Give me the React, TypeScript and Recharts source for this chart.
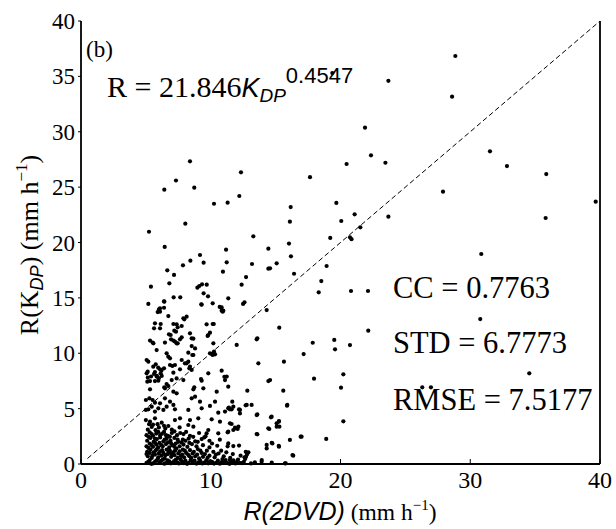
import React from 'react';
import { ScatterChart, Scatter, XAxis, YAxis, ReferenceLine } from 'recharts';

// ---- data (R(2DVD), R(KDP)) in mm/h ----
const upperPoints: [number, number][] = [
  [5.24, 20.97], [6.42, 24.77], [7.32, 25.6], [8.4, 27.33], [8.73, 24.95], [8.04, 21.7], [10.25, 23.5],
  [11.3, 23.6], [12.2, 24.2], [12.33, 26.34], [17.65, 25.9], [13.28, 20.56], [16.16, 23.2], [16.1, 21.88],
  [16.03, 19.9], [14.44, 19.44], [11.18, 19.35], [6.45, 19.6], [9.17, 18.87], [16.18, 18.75],
  [28.85, 36.84], [28.6, 33.17], [23.69, 34.6], [19.37, 35.3], [21.89, 30.37], [22.35, 27.87], [23.46, 27.2],
  [20.47, 27.09], [31.52, 28.23], [32.83, 26.9], [35.86, 26.18], [27.9, 24.59], [19.68, 23.57], [21.09, 22.54],
  [20.06, 21.94], [23.69, 22.33], [35.81, 22.21], [39.67, 23.69], [21.53, 21.37], [19.21, 20.41], [20.73, 20.47],
  [20.85, 20.3], [30.85, 18.96], [15.08, 18.12], [14.57, 17.67], [16.42, 17.18], [18.93, 17.88], [9.45, 18.18],
  [8.43, 18.36], [7.86, 17.94], [6.65, 17.49], [7.17, 17.07], [11.23, 18.21], [10.94, 17.37], [13.18, 18.06],
  [14.44, 17.64], [12.72, 16.88],
];

const midPoints: [number, number][] = [
  [18.52, 16.52], [18.32, 15.5], [20.81, 15.62], [22.12, 15.62], [30.77, 13.09], [22.14, 12.04], [20.73, 10.74],
  [19.52, 11.2], [19.58, 10.35], [17.86, 10.95], [17.16, 9.93], [5.39, 16.01], [6.81, 16.31], [8.97, 15.92],
  [9.12, 16.07], [9.33, 16.22], [9.69, 16.19], [9.45, 15.41], [9.79, 15.14], [12.38, 16.19], [11.35, 14.96],
  [10.15, 14.51], [10.69, 14.18], [12.49, 14.45], [12.6, 14.6], [7.14, 15.05], [7.65, 15.05], [6.4, 14.69],
  [5.19, 14.45], [6.09, 14.06], [6.4, 14.11], [9.27, 14.42], [15.28, 12.31], [14.31, 13.9], [13.54, 11.26],
  [10.84, 13.84], [6.09, 13.75], [6.73, 13.36], [7.89, 13.15], [8.14, 13.3], [10.92, 13.75], [5.7, 12.7],
  [6.14, 12.64], [7.12, 12.64], [7.76, 12.46], [9.68, 12.61], [10.15, 12.64], [9.94, 11.86], [9.81, 11.65],
  [5.63, 12.25], [6.09, 12.25], [7.32, 11.95], [6.91, 11.65], [8.4, 11.8], [7.63, 11.26], [8.53, 11.35],
  [13.59, 11.35], [5.32, 11.14], [5.52, 10.96], [6.47, 10.96], [7.12, 11.14], [7.37, 10.9], [8.53, 10.65],
  [8.79, 10.44], [12.0, 10.75], [5.83, 10.29], [8.27, 10.05], [9.94, 9.99], [10.25, 10.14], [10.15, 9.84],
  [6.42, 14.66], [6.01, 13.96], [5.91, 13.72], [9.3, 14.39], [10.84, 14.14], [10.97, 13.84], [7.96, 13.06],
  [10.23, 12.64], [7.37, 12.61], [7.45, 12.34], [7.19, 12.04], [6.78, 11.71], [7.76, 11.44], [8.66, 11.32],
  [9.76, 11.56], [5.58, 10.9], [6.94, 11.26], [7.24, 11.05], [7.45, 10.9], [10.2, 10.9], [10.33, 9.9],
];

const lowerMidPoints: [number, number][] = [
  [6.73, 9.69], [8.66, 9.84], [5.06, 9.39], [5.19, 9.24], [7.76, 9.39], [8.01, 9.09], [13.67, 9.09], [15.64, 9.24],
  [5.57, 8.79], [6.09, 8.55], [6.4, 8.64], [7.24, 8.94], [7.63, 8.55], [8.35, 8.64], [10.84, 8.43], [9.3, 7.52],
  [9.81, 8.19], [5.06, 8.19], [5.63, 8.13], [5.83, 7.89], [6.14, 8.19], [7.12, 8.25], [7.89, 7.58], [11.1, 7.58],
  [11.23, 7.89], [14.44, 7.49], [5.11, 7.43], [5.32, 7.49], [5.7, 7.49], [5.96, 7.52], [6.6, 7.22], [6.99, 7.58],
  [7.37, 7.73], [8.66, 6.74], [9.43, 6.83], [10.46, 6.53], [12.82, 6.62], [15.59, 6.62], [5.32, 6.74], [6.47, 6.83],
  [7.12, 6.53], [7.37, 6.38], [8.53, 5.93], [8.79, 6.08], [9.17, 5.63], [10.33, 5.63], [11.35, 5.03], [11.74, 5.18],
  [11.61, 4.94], [12.25, 4.88], [12.77, 5.33], [13.15, 5.33], [13.59, 4.48], [15.9, 5.33], [5.0, 5.78], [5.27, 5.93],
  [5.52, 5.78], [5.7, 5.54], [6.09, 5.48], [6.47, 5.93], [6.6, 5.18], [6.86, 5.63], [7.12, 5.33], [7.24, 4.94],
  [8.27, 4.88], [9.3, 5.03], [9.94, 5.24], [10.58, 4.63], [11.1, 4.73], [11.48, 4.94], [5.0, 4.88], [5.19, 4.94],
  [5.45, 5.18], [5.7, 4.73], [5.96, 5.03], [6.35, 4.88], [7.63, 4.12], [8.4, 3.97], [9.04, 4.12], [10.07, 4.03],
  [10.71, 3.82], [11.48, 3.67], [11.87, 3.22], [12.13, 3.37], [14.69, 4.27], [15.08, 3.67], [15.29, 3.37],
  [5.0, 3.97], [5.32, 3.82], [5.7, 4.12], [6.22, 3.73], [6.73, 3.43], [7.24, 3.97], [8.27, 3.52], [8.66, 3.37],
  [9.81, 3.07], [13.54, 2.71], [14.44, 3.22], [5.76, 9.0], [5.95, 8.7], [6.2, 8.45], [5.7, 8.3], [5.85, 7.95],
  [5.4, 7.9], [5.15, 7.8], [6.0, 7.75], [6.22, 7.95], [6.86, 8.94], [7.04, 8.85], [8.4, 8.79], [8.53, 8.49],
  [9.25, 7.67], [11.05, 7.88], [8.73, 6.92], [6.42, 6.92], [6.73, 7.04], [6.6, 9.99], [6.86, 9.54], [8.14, 9.09],
  [8.27, 9.24], [8.58, 9.84], [5.14, 8.34], [10.2, 10.0], [10.1, 9.9], [17.96, 7.7], [20.22, 8.1], [20.04, 6.89],
  [34.55, 8.19], [26.3, 6.92], [26.97, 6.92], [20.22, 3.85], [14.57, 7.58], [15.88, 5.27], [15.24, 3.82],
  [15.08, 3.37], [11.35, 6.98], [11.66, 5.63], [11.4, 5.1], [12.18, 4.93], [12.25, 4.57], [12.69, 5.3],
  [13.54, 4.42], [14.64, 4.21], [15.26, 3.88], [14.51, 3.16], [11.61, 3.61], [11.87, 3.28], [12.07, 3.16],
  [11.74, 3.07], [5.15, 3.1], [5.45, 3.35], [5.75, 3.05], [6.0, 3.3], [6.5, 3.2], [7.0, 3.1], [7.6, 3.3],
  [5.25, 3.6], [5.55, 3.55], [5.9, 3.6], [6.4, 3.45],
];

const lowPoints: [number, number][] = [
  [18.9, 2.26], [17.0, 2.47], [14.7, 1.92], [15.24, 1.63], [16.1, 2.17], [16.93, 2.47], [16.3, 0.81], [14.7, 0.12],
  [15.78, 0.06], [14.31, 1.72], [13.93, 0.36], [12.72, 0.66], [12.8, 0.9], [12.65, 0.45], [12.9, 1.05], [11.3, 2.86],
  [13.59, 2.68], [11.35, 1.86], [11.74, 1.62], [12.18, 1.66], [14.31, 1.41], [14.75, 1.86], [15.26, 1.56],
  [16.36, 0.75], [11.48, 0.36], [11.74, 0.21], [12.12, 0.12], [11.1, 0.21], [13.92, 0.21], [15.72, 0.06],
  [9.68, 2.77], [10.58, 2.77], [11.35, 2.92],
];

const basePoints: [number, number][] = [
  [5.05, 0.1], [5.3, 0.35], [5.55, 0.05], [5.8, 0.3], [6.05, 0.15], [6.3, 0.4], [6.55, 0.08], [6.8, 0.25],
  [7.05, 0.12], [7.3, 0.38], [7.55, 0.05], [7.8, 0.22], [8.05, 0.3], [8.3, 0.1], [8.6, 0.18], [8.9, 0.04],
  [9.2, 0.28], [9.5, 0.12], [9.8, 0.06], [10.1, 0.2], [10.4, 0.1], [10.7, 0.03], [11.0, 0.15], [11.3, 0.08],
  [11.6, 0.2], [11.9, 0.05], [12.2, 0.1],
  [5.2, 0.22], [5.42, 0.02], [5.68, 0.18], [5.92, 0.45], [6.18, 0.28], [6.42, 0.03], [6.68, 0.33], [6.92, 0.06],
  [7.18, 0.26], [7.42, 0.15], [7.68, 0.4], [7.92, 0.08], [8.18, 0.02], [8.45, 0.35], [8.75, 0.3], [9.05, 0.14],
  [9.35, 0.05], [9.65, 0.32], [9.95, 0.25], [10.25, 0.04], [10.55, 0.3], [10.85, 0.18], [11.15, 0.35],
  [11.45, 0.02], [11.75, 0.32], [12.05, 0.25], [12.4, 0.08], [12.55, 0.2], [13.1, 0.05], [13.4, 0.15],
  [5.15, 0.7], [5.45, 0.55], [5.7, 0.85], [5.95, 0.6], [6.2, 0.75], [6.45, 0.5], [6.7, 0.9], [6.95, 0.65],
  [7.2, 0.8], [7.45, 0.55], [7.7, 0.72], [7.95, 0.6], [8.25, 0.85], [8.5, 0.55], [8.8, 0.7], [9.1, 0.5],
  [9.4, 0.65], [9.75, 0.55], [10.3, 0.6], [10.9, 0.45], [11.5, 0.55], [12.1, 0.4], [12.6, 0.6], [12.8, 0.9],
  [12.7, 1.1],
  [5.05, 0.9], [5.3, 1.0], [5.5, 0.75], [5.75, 1.2], [6.0, 0.95], [6.25, 1.25], [6.5, 0.8], [6.75, 1.05],
  [7.0, 0.9], [7.25, 1.2], [7.5, 0.95], [7.8, 0.85], [8.0, 1.2], [8.35, 0.7], [8.6, 0.95], [8.95, 0.85],
  [9.2, 1.2], [9.55, 0.9], [9.9, 0.75], [10.4, 0.85], [10.8, 1.2], [11.0, 0.7], [11.7, 0.9], [12.3, 0.75],
  [5.1, 1.1], [5.35, 1.3], [5.6, 1.05], [5.85, 1.35], [6.1, 1.15], [6.35, 1.0], [6.6, 1.3], [6.85, 1.2],
  [7.1, 1.05], [7.35, 1.4], [7.6, 1.15], [7.85, 1.3], [8.1, 1.0], [8.4, 1.25], [8.7, 1.1], [9.0, 1.35],
  [9.3, 1.0], [9.7, 1.2], [10.2, 1.1], [10.6, 0.95], [11.2, 1.05],
  [5.05, 1.6], [5.3, 1.85], [5.55, 1.55], [5.8, 1.75], [6.05, 1.9], [6.3, 1.6], [6.55, 1.8], [6.8, 1.5],
  [7.05, 1.7], [7.3, 1.85], [7.6, 1.6], [7.9, 1.75], [8.2, 1.55], [8.55, 1.8], [8.9, 1.6], [9.4, 1.7],
  [9.9, 1.5], [10.5, 1.65], [11.3, 1.6],
  [5.2, 1.45], [5.45, 1.7], [5.7, 1.95], [5.95, 1.5], [6.2, 1.7], [6.45, 2.2], [6.7, 1.95], [6.95, 1.85],
  [7.2, 1.55], [7.45, 2.2], [7.75, 1.95], [8.05, 2.1], [8.35, 1.9], [8.65, 2.45], [9.0, 2.0], [9.5, 2.4],
  [10.1, 1.85],
  [5.1, 2.1], [5.35, 2.35], [5.6, 2.0], [5.85, 2.25], [6.1, 2.4], [6.35, 2.05], [6.6, 2.3], [6.9, 2.1],
  [7.2, 2.35], [7.5, 2.0], [7.85, 2.2], [8.3, 2.3], [8.8, 2.05], [9.3, 2.25], [9.9, 2.1], [10.7, 2.2],
  [5.05, 2.6], [5.3, 2.85], [5.55, 2.55], [5.8, 2.75], [6.1, 2.6], [6.4, 2.9], [6.7, 2.55], [7.0, 2.8],
  [7.4, 2.6], [7.9, 2.7], [8.4, 2.55], [9.1, 2.8], [9.6, 2.5],
  [5.2, 2.45], [5.45, 2.7], [5.7, 2.3], [5.95, 2.9], [6.25, 2.75], [6.55, 2.6], [6.85, 2.45], [7.2, 2.95],
  [7.65, 2.8], [8.1, 2.9],
];

const oneToOne = [{ x: 0.5, y: 0.5 }, { x: 40, y: 40 }];
const xTicks = [0, 10, 20, 30, 40];
const yTicks = [0, 5, 10, 15, 20, 25, 30, 35, 40];

const scatterData = [...upperPoints, ...midPoints, ...lowerMidPoints, ...lowPoints, ...basePoints].map(
  ([x, y]) => ({ x, y })
);

const SERIF = '"Liberation Serif", "Times New Roman", serif';
const SANS = '"Liberation Sans", Arial, sans-serif';

const XTick = (props: any) => (
  <text x={props.x} y={props.y} dy={29} textAnchor="middle" fontFamily={SERIF} fontSize={24} fill="#000">
    {props.payload.value}
  </text>
);

const YTick = (props: any) => (
  <text x={props.x} y={props.y} dy={8} textAnchor="end" fontFamily={SERIF} fontSize={23} fill="#000">
    {props.payload.value}
  </text>
);

const Dot = (props: any) => <circle cx={props.cx} cy={props.cy} r={2.1} fill="#000" />;

export default function App() {
  const axisLine = { stroke: '#000', strokeWidth: 1.8 };
  const tickLine = { stroke: '#000', strokeWidth: 1 };
  return (
    <div style={{ position: 'absolute', left: 0, top: 0, width: 616, height: 529, background: '#fff' }}>
      <ScatterChart width={616} height={529} margin={{ top: 21, right: 15, bottom: 35, left: 21 }}>
        <XAxis
          dataKey="x"
          type="number"
          domain={[0, 40]}
          ticks={xTicks}
          height={30}
          axisLine={axisLine}
          tickLine={tickLine}
          tickSize={-5}
          tickMargin={0}
          tick={<XTick />}
          interval={0}
        />
        <XAxis xAxisId="top" orientation="top" type="number" domain={[0, 40]} height={0} axisLine={axisLine} tickLine={false} tick={false} />
        <YAxis
          dataKey="y"
          type="number"
          domain={[0, 40]}
          ticks={yTicks}
          width={60}
          axisLine={axisLine}
          tickLine={tickLine}
          tickSize={3}
          tickMargin={3}
          tick={<YTick />}
          interval={0}
        />
        <YAxis
          yAxisId="right"
          orientation="right"
          type="number"
          domain={[0, 40]}
          ticks={yTicks}
          width={1}
          axisLine={axisLine}
          tickLine={tickLine}
          tickSize={-5}
          tick={false}
          interval={0}
        />
        <ReferenceLine segment={oneToOne} stroke="#000" strokeWidth={1} strokeDasharray="5 3" ifOverflow="extendDomain" />
        <Scatter data={scatterData} fill="#000" shape={<Dot />} isAnimationActive={false} />
      </ScatterChart>
      <svg width={616} height={529} style={{ position: 'absolute', left: 0, top: 0, pointerEvents: 'none' }}>
        <text x={86} y={57} fontFamily={SERIF} fontSize={23} fill="#000">(b)</text>
        <text x={107} y={97} fontFamily={SERIF} fontSize={30} fill="#000">
          R = 21.846
          <tspan fontFamily={SANS} fontStyle="italic" fontSize={27}>K</tspan>
          <tspan fontFamily={SANS} fontStyle="italic" fontSize={19} dy={5}>DP</tspan>
          <tspan fontFamily={SANS} fontSize={22} dy={-19}>0.4547</tspan>
        </text>
        <text x={393} y={298} fontFamily={SERIF} fontSize={30.5} fill="#000">CC = 0.7763</text>
        <text x={393} y={353} fontFamily={SERIF} fontSize={30.5} fill="#000">STD = 6.7773</text>
        <text x={393} y={410} fontFamily={SERIF} fontSize={30.5} fill="#000">RMSE = 7.5177</text>
        <text x={340} y={520} textAnchor="middle" fill="#000">
          <tspan fontFamily={SANS} fontStyle="italic" fontSize={25}>R(2DVD)</tspan>
          <tspan fontFamily={SERIF} fontSize={23.5}> (mm h</tspan>
          <tspan fontFamily={SERIF} fontSize={15} dy={-10}>−1</tspan>
          <tspan fontFamily={SERIF} fontSize={23.5} dy={10}>)</tspan>
        </text>
        <text transform="translate(38,245) rotate(-90)" textAnchor="middle" fill="#000">
          <tspan fontFamily={SERIF} fontSize={26}>R(K</tspan>
          <tspan fontFamily={SANS} fontStyle="italic" fontSize={18} dy={5}>DP</tspan>
          <tspan fontFamily={SERIF} fontSize={26} dy={-5}>) (mm h</tspan>
          <tspan fontFamily={SERIF} fontSize={17} dy={-11}>−1</tspan>
          <tspan fontFamily={SERIF} fontSize={26} dy={11}>)</tspan>
        </text>
      </svg>
    </div>
  );
}
